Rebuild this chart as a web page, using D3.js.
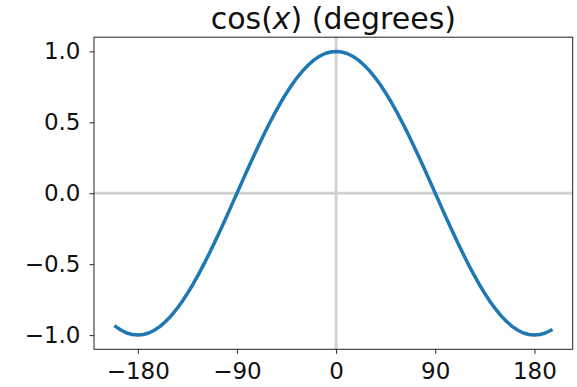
<!DOCTYPE html>
<html>
<head>
<meta charset="utf-8">
<script src="https://cdn.jsdelivr.net/npm/d3@7"></script>
<style>
  body { margin: 0; background: #fff; }
  svg { display: block; }
</style>
</head>
<body>
<div id="chart"></div>
<script>
// angles in degrees
const degrees = [
  -200, -195, -190, -185, -180, -175, -170, -165, -160, -155,
  -150, -145, -140, -135, -130, -125, -120, -115, -110, -105,
  -100, -95, -90, -85, -80, -75, -70, -65, -60, -55,
  -50, -45, -40, -35, -30, -25, -20, -15, -10, -5,
  0, 5, 10, 15, 20, 25, 30, 35, 40, 45,
  50, 55, 60, 65, 70, 75, 80, 85, 90, 95,
  100, 105, 110, 115, 120, 125, 130, 135, 140, 145,
  150, 155, 160, 165, 170, 175, 180, 185, 190, 195
];
const cosValues = [
  -0.940, -0.966, -0.985, -0.996, -1.000, -0.996, -0.985, -0.966, -0.940, -0.906,
  -0.866, -0.819, -0.766, -0.707, -0.643, -0.574, -0.500, -0.423, -0.342, -0.259,
  -0.174, -0.087, 0.000, 0.087, 0.174, 0.259, 0.342, 0.423, 0.500, 0.574,
  0.643, 0.707, 0.766, 0.819, 0.866, 0.906, 0.940, 0.966, 0.985, 0.996,
  1.000, 0.996, 0.985, 0.966, 0.940, 0.906, 0.866, 0.819, 0.766, 0.707,
  0.643, 0.574, 0.500, 0.423, 0.342, 0.259, 0.174, 0.087, 0.000, -0.087,
  -0.174, -0.259, -0.342, -0.423, -0.500, -0.574, -0.643, -0.707, -0.766, -0.819,
  -0.866, -0.906, -0.940, -0.966, -0.985, -0.996, -1.000, -0.996, -0.985, -0.966
];
const xTicks = [-180, -90, 0, 90, 180];
const yTicks = [-1.0, -0.5, 0.0, 0.5, 1.0];

const width = 577, height = 387;
const margin = { top: 37.2, right: 4.3, bottom: 37.7, left: 94 };

const svg = d3.select("#chart").append("svg")
    .attr("width", width)
    .attr("height", height)
    .attr("font-family", "DejaVu Sans, sans-serif");

// matplotlib-style 5% padding around the data
const xExt = d3.extent(degrees);
const xPad = (xExt[1] - xExt[0]) * 0.05;
const x = d3.scaleLinear()
    .domain([xExt[0] - xPad, xExt[1] + xPad])
    .range([margin.left, width - margin.right]);

const y = d3.scaleLinear()
    .domain([-1.1, 1.1])
    .range([height - margin.bottom, margin.top]);

// zero lines
svg.append("line")
    .attr("x1", x(0)).attr("x2", x(0))
    .attr("y1", margin.top).attr("y2", height - margin.bottom)
    .attr("stroke", "#d3d3d3").attr("stroke-width", 3);
svg.append("line")
    .attr("x1", margin.left).attr("x2", width - margin.right)
    .attr("y1", y(0)).attr("y2", y(0))
    .attr("stroke", "#d3d3d3").attr("stroke-width", 3);

const line = d3.line()
    .x((d, i) => x(degrees[i]))
    .y(d => y(d));

svg.append("path")
    .datum(cosValues)
    .attr("fill", "none")
    .attr("stroke", "#1f77b4")
    .attr("stroke-width", 3.5)
    .attr("stroke-linecap", "square")
    .attr("stroke-linejoin", "round")
    .attr("d", line);

// frame
svg.append("rect")
    .attr("x", margin.left).attr("y", margin.top)
    .attr("width", width - margin.right - margin.left)
    .attr("height", height - margin.bottom - margin.top)
    .attr("fill", "none")
    .attr("stroke", "#222")
    .attr("stroke-width", 1);

const xAxis = d3.axisBottom(x)
    .tickValues(xTicks)
    .tickSize(4.5)
    .tickPadding(9)
    .tickFormat(d => d3.format("d")(d).replace("-", "\u2212"));

svg.append("g")
    .attr("transform", `translate(0,${height - margin.bottom})`)
    .call(xAxis)
    .call(g => g.select(".domain").remove())
    .call(g => g.selectAll("text").attr("font-size", 23).attr("fill", "#111").attr("font-family", "DejaVu Sans"))
    .call(g => g.selectAll("line").attr("stroke", "#222"));

const yAxis = d3.axisLeft(y)
    .tickValues(yTicks)
    .tickSize(4.5)
    .tickPadding(9)
    .tickFormat(d => d3.format(".1f")(d).replace("-", "\u2212"));

svg.append("g")
    .attr("transform", `translate(${margin.left},0)`)
    .call(yAxis)
    .call(g => g.select(".domain").remove())
    .call(g => g.selectAll("text").attr("font-size", 23).attr("fill", "#111").attr("font-family", "DejaVu Sans"))
    .call(g => g.selectAll("line").attr("stroke", "#222"));

// title
const title = svg.append("text")
    .attr("x", (margin.left + width - margin.right) / 2)
    .attr("y", 29)
    .attr("text-anchor", "middle")
    .attr("font-size", 30)
    .attr("fill", "#111");
title.append("tspan").text("cos(");
title.append("tspan").attr("font-style", "italic").text("x");
title.append("tspan").text(") (degrees)");
</script>
</body>
</html>
